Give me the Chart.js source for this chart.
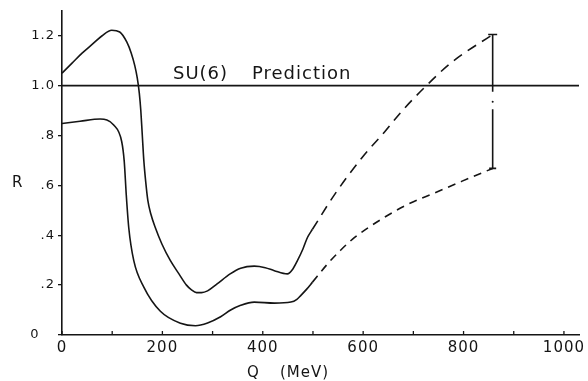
<!DOCTYPE html>
<html lang="en">
<head>
<meta charset="UTF-8">
<title>R vs Q</title>
<script src="https://cdn.jsdelivr.net/npm/chart.js"></script>
<style>
  html, body { margin: 0; padding: 0; background: #fff; }
  .wrap { width: 588px; height: 381px; position: relative; }
</style>
</head>
<body>
<div class="wrap"><canvas id="rChart"></canvas></div>
<script>
// values: Q in MeV, R dimensionless
const upperSolidQ = [0, 20, 40, 60, 80, 99, 115, 129, 138, 145, 150, 154, 157, 160, 163, 167, 171, 177, 186, 199, 216, 233, 248, 258, 268, 278, 290, 309, 335, 356, 383, 405, 423, 449, 460, 469, 480, 489, 499];
const upperSolidR = [1.05, 1.09, 1.13, 1.165, 1.20, 1.222, 1.215, 1.175, 1.13, 1.08, 1.03, 0.97, 0.90, 0.80, 0.70, 0.61, 0.54, 0.485, 0.43, 0.365, 0.298, 0.245, 0.2, 0.181, 0.17, 0.17, 0.177, 0.205, 0.245, 0.268, 0.276, 0.27, 0.258, 0.245, 0.265, 0.298, 0.345, 0.391, 0.424];
const upperDashQ = [499, 543, 598, 643, 676, 723, 776, 858];
const upperDashR = [0.424, 0.563, 0.712, 0.815, 0.895, 0.994, 1.093, 1.205];

const lowerSolidQ = [0, 36, 76, 103, 119, 124, 128, 133, 143, 163, 196, 236, 266, 290, 316, 336, 356, 383, 423, 456, 468, 476, 488, 499];
const lowerSolidR = [0.848, 0.857, 0.866, 0.842, 0.775, 0.696, 0.563, 0.43, 0.298, 0.192, 0.095, 0.047, 0.037, 0.048, 0.073, 0.1, 0.119, 0.132, 0.128, 0.132, 0.143, 0.159, 0.185, 0.212];
const lowerDashQ = [499, 529, 555, 583, 636, 689, 743, 796, 858];
const lowerDashR = [0.212, 0.285, 0.34, 0.391, 0.464, 0.524, 0.57, 0.616, 0.668];

const su6Q = [0, 1030];
const su6R = [1.0, 1.0];

const errorBarQ = 858;
const errorTopR = [1.205, 0.975];
const errorDotR = [0.935];
const errorBottomR = [0.905, 0.668];

const xTickValues = [0, 100, 200, 300, 400, 500, 600, 700, 800, 900, 1000];
const xTickLabels = ['0', '', '200', '', '400', '', '600', '', '800', '', '1000'];
const yTickValues = [0, 0.2, 0.4, 0.6, 0.8, 1.0, 1.2];
const yTickLabels = ['0   ', '.2', '.4', '.6', '.8', '1.0', '1.2'];

function pts(qs, rs) {
    return qs.map((q, i) => ({ x: q, y: rs[i] }));
}
function vpts(q, rs) {
    return rs.map(r => ({ x: q, y: r }));
}

const ink = '#151515';
Chart.defaults.font.family = '"DejaVu Sans", sans-serif';
Chart.defaults.color = ink;

const curve = (data, dash) => ({
    data: data,
    borderColor: ink,
    borderWidth: 1.6,
    borderDash: dash || [],
    pointRadius: 0,
    fill: false,
    cubicInterpolationMode: 'monotone'
});

// axis annotations and the small upward ticks on the Q axis
const annotate = {
    id: 'annotate',
    beforeDraw(chart) {
        chart.ctx.letterSpacing = '1px';
    },
    afterDraw(chart) {
        const { ctx, scales: { x, y } } = chart;
        ctx.save();
        ctx.strokeStyle = ink;
        ctx.lineWidth = 1.3;
        xTickValues.forEach(v => {
            const px = x.getPixelForValue(v);
            ctx.beginPath();
            ctx.moveTo(px, y.bottom);
            ctx.lineTo(px, y.bottom - 4);
            ctx.stroke();
        });
        ctx.fillStyle = ink;
        ctx.letterSpacing = '1px';
        ctx.textBaseline = 'alphabetic';
        ctx.font = '18px "DejaVu Sans"';
        ctx.fillText('SU(6)', 173, 79);
        ctx.fillText('Prediction', 252, 79);
        ctx.font = '15px "DejaVu Sans"';
        ctx.fillText('R', 12, 187);
        ctx.fillText('Q', 247, 377);
        ctx.fillText('(MeV)', 280, 377);
        ctx.restore();
    }
};

new Chart(document.getElementById('rChart'), {
    type: 'line',
    data: {
        datasets: [
            curve(pts(upperSolidQ, upperSolidR)),
            curve(pts(upperDashQ, upperDashR), [10, 7]),
            curve(pts(lowerSolidQ, lowerSolidR)),
            curve(pts(lowerDashQ, lowerDashR), [8, 6]),
            curve(pts(su6Q, su6R)),
            {
                data: vpts(errorBarQ, errorTopR),
                borderColor: ink, borderWidth: 1.6,
                pointStyle: 'line', pointRadius: [4.5, 0],
                pointBorderColor: ink, pointBorderWidth: 1.6
            },
            {
                data: vpts(errorBarQ, errorDotR),
                showLine: false,
                pointStyle: 'circle', pointRadius: 1,
                pointBackgroundColor: ink, pointBorderWidth: 0
            },
            {
                data: vpts(errorBarQ, errorBottomR),
                borderColor: ink, borderWidth: 1.6,
                pointStyle: 'line', pointRadius: [0, 3.5],
                pointBorderColor: ink, pointBorderWidth: 1.6
            }
        ]
    },
    options: {
        responsive: true,
        maintainAspectRatio: false,
        animation: false,
        devicePixelRatio: 1,
        layout: { padding: { top: 8, right: 9, left: 0, bottom: 0 } },
        plugins: { legend: { display: false }, tooltip: { enabled: false } },
        scales: {
            x: {
                type: 'linear',
                min: 0,
                max: 1030,
                afterFit(scale) { scale.height = 46; },
                afterBuildTicks(scale) { scale.ticks = xTickValues.map(v => ({ value: v })); },
                grid: { display: false, drawTicks: false },
                border: { color: ink, width: 1.6 },
                ticks: {
                    padding: 4,
                    maxRotation: 0,
                    autoSkip: false,
                    font: { size: 15 },
                    callback: (v, i) => xTickLabels[i]
                }
            },
            y: {
                type: 'linear',
                min: 0,
                max: 1.3,
                afterFit(scale) { scale.width = 62; },
                afterBuildTicks(scale) { scale.ticks = yTickValues.map(v => ({ value: v })); },
                grid: { drawOnChartArea: false, tickLength: 4, color: ink, lineWidth: 1.3 },
                border: { color: ink, width: 1.6 },
                ticks: {
                    padding: 3,
                    autoSkip: false,
                    font: { size: 13 },
                    callback: (v, i) => yTickLabels[i]
                }
            }
        }
    },
    plugins: [annotate]
});
</script>
</body>
</html>
